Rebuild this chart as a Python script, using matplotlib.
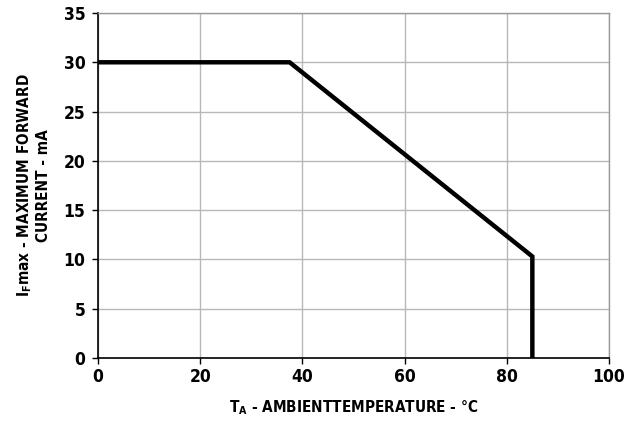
import matplotlib
matplotlib.use("Agg")
import matplotlib.pyplot as plt

plt.rcParams['font.family'] = ['DejaVu Sans']
plt.rcParams['font.stretch'] = 'condensed'
plt.rcParams['font.weight'] = 'bold'
plt.rcParams['mathtext.default'] = 'regular'

# derating curve
temp_c = [0, 37.5, 85, 85]
if_max_ma = [30, 30, 10.3, 0]

x_ticks = [0, 20, 40, 60, 80, 100]
y_ticks = [0, 5, 10, 15, 20, 25, 30, 35]

fig = plt.figure(figsize=(6.33, 4.21), dpi=100)
ax = fig.add_axes([98 / 633, 1 - 358 / 421, 511 / 633, 345 / 421])

ax.plot(temp_c, if_max_ma, color='black', linewidth=3.2, solid_joinstyle='miter')

ax.set_xlim(0, 100)
ax.set_ylim(0, 35)
ax.set_xticks(x_ticks)
ax.set_yticks(y_ticks)
ax.grid(True, color='#b8b8b8', linewidth=1.0)
ax.set_axisbelow(True)

for side in ['top', 'right']:
    ax.spines[side].set_color('#9a9a9a')
    ax.spines[side].set_linewidth(1.0)
for side in ['left', 'bottom']:
    ax.spines[side].set_color('black')
    ax.spines[side].set_linewidth(1.2)

ax.tick_params(direction='out', length=4, width=1, labelsize=12.5, pad=3)
ax.tick_params(axis='y', pad=5)
for lab in ax.get_xticklabels() + ax.get_yticklabels():
    lab.set_fontweight('bold')

ax.set_xlabel('T$_A$ - AMBIENTTEMPERATURE - °C', fontsize=11, fontweight='bold', labelpad=9)
ax.set_ylabel('I$_F$max - MAXIMUM FORWARD\nCURRENT - mA', fontsize=11, fontweight='bold',
              labelpad=9, linespacing=1.15)

fig.savefig('out.png', dpi=100)
